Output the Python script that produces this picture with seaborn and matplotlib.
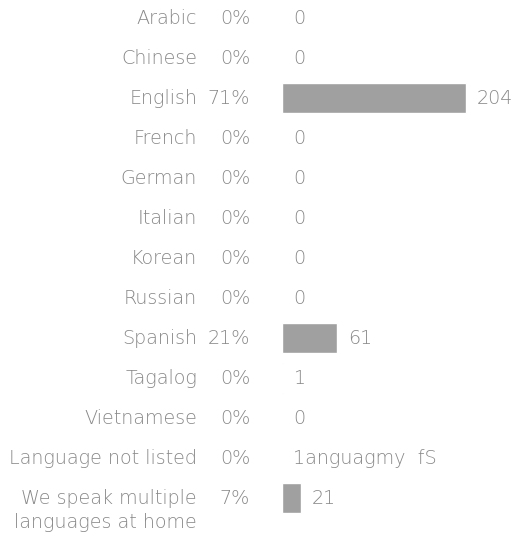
import matplotlib
matplotlib.use("Agg")
import matplotlib.pyplot as plt
import matplotlib.transforms as mtransforms
import seaborn as sns
import pandas as pd

categories = ["Arabic", "Chinese", "English", "French", "German", "Italian",
              "Korean", "Russian", "Spanish", "Tagalog", "Vietnamese",
              "Language not listed", "We speak multiple\nlanguages at home"]
counts = [0, 0, 204, 0, 0, 0, 0, 0, 61, 1, 0, 0, 21]
percents = ["0%", "0%", "71%", "0%", "0%", "0%", "0%", "0%", "21%", "0%", "0%", "0%", "7%"]
count_labels = ["0", "0", "204", "0", "0", "0", "0", "0", "61", "1", "0",
                "1anguagmy  fS", "21"]

sns.set_theme(style="white")
plt.rcParams['font.family'] = ['DejaVu Sans']

W, H, DPI = 517, 546, 100
fig = plt.figure(figsize=(W / DPI, H / DPI), dpi=DPI)
ax = fig.add_axes([282 / W, 0, 1 - 282 / W, 1])

df = pd.DataFrame({"category": categories, "count": counts})
sns.barplot(data=df, x="count", y="category", order=categories, orient="h",
            color="#a0a0a0", saturation=1, width=0.75, ax=ax)

ax.set_xlim(0, (W - 282) / 0.902)
ax.set_ylim((H - 18) / 40, -18 / 40)
ax.axis("off")

txt_color = "#888888"
fs = 13.8
wt = 200
blend = mtransforms.blended_transform_factory(fig.transFigure, ax.transData)
line_px = 24
for i, (cat, pct) in enumerate(zip(categories, percents)):
    lines = cat.split("\n")
    for k, ln in enumerate(lines):
        off = mtransforms.offset_copy(blend, fig=fig, x=0, y=-k * line_px, units="dots")
        ax.text(197 / W, i, ln, transform=off, ha="right", va="center",
                color=txt_color, fontsize=fs, fontweight=wt)
    ax.text(250 / W, i, pct, transform=blend, ha="right", va="center",
            color=txt_color, fontsize=fs, fontweight=wt)

for i, (v, lab) in enumerate(zip(counts, count_labels)):
    ax.annotate(lab, xy=(v, i), xytext=(11 * 72 / DPI, 0), textcoords="offset points",
                ha="left", va="center", color=txt_color, fontsize=fs, fontweight=wt)

fig.savefig("out.png", dpi=DPI)
